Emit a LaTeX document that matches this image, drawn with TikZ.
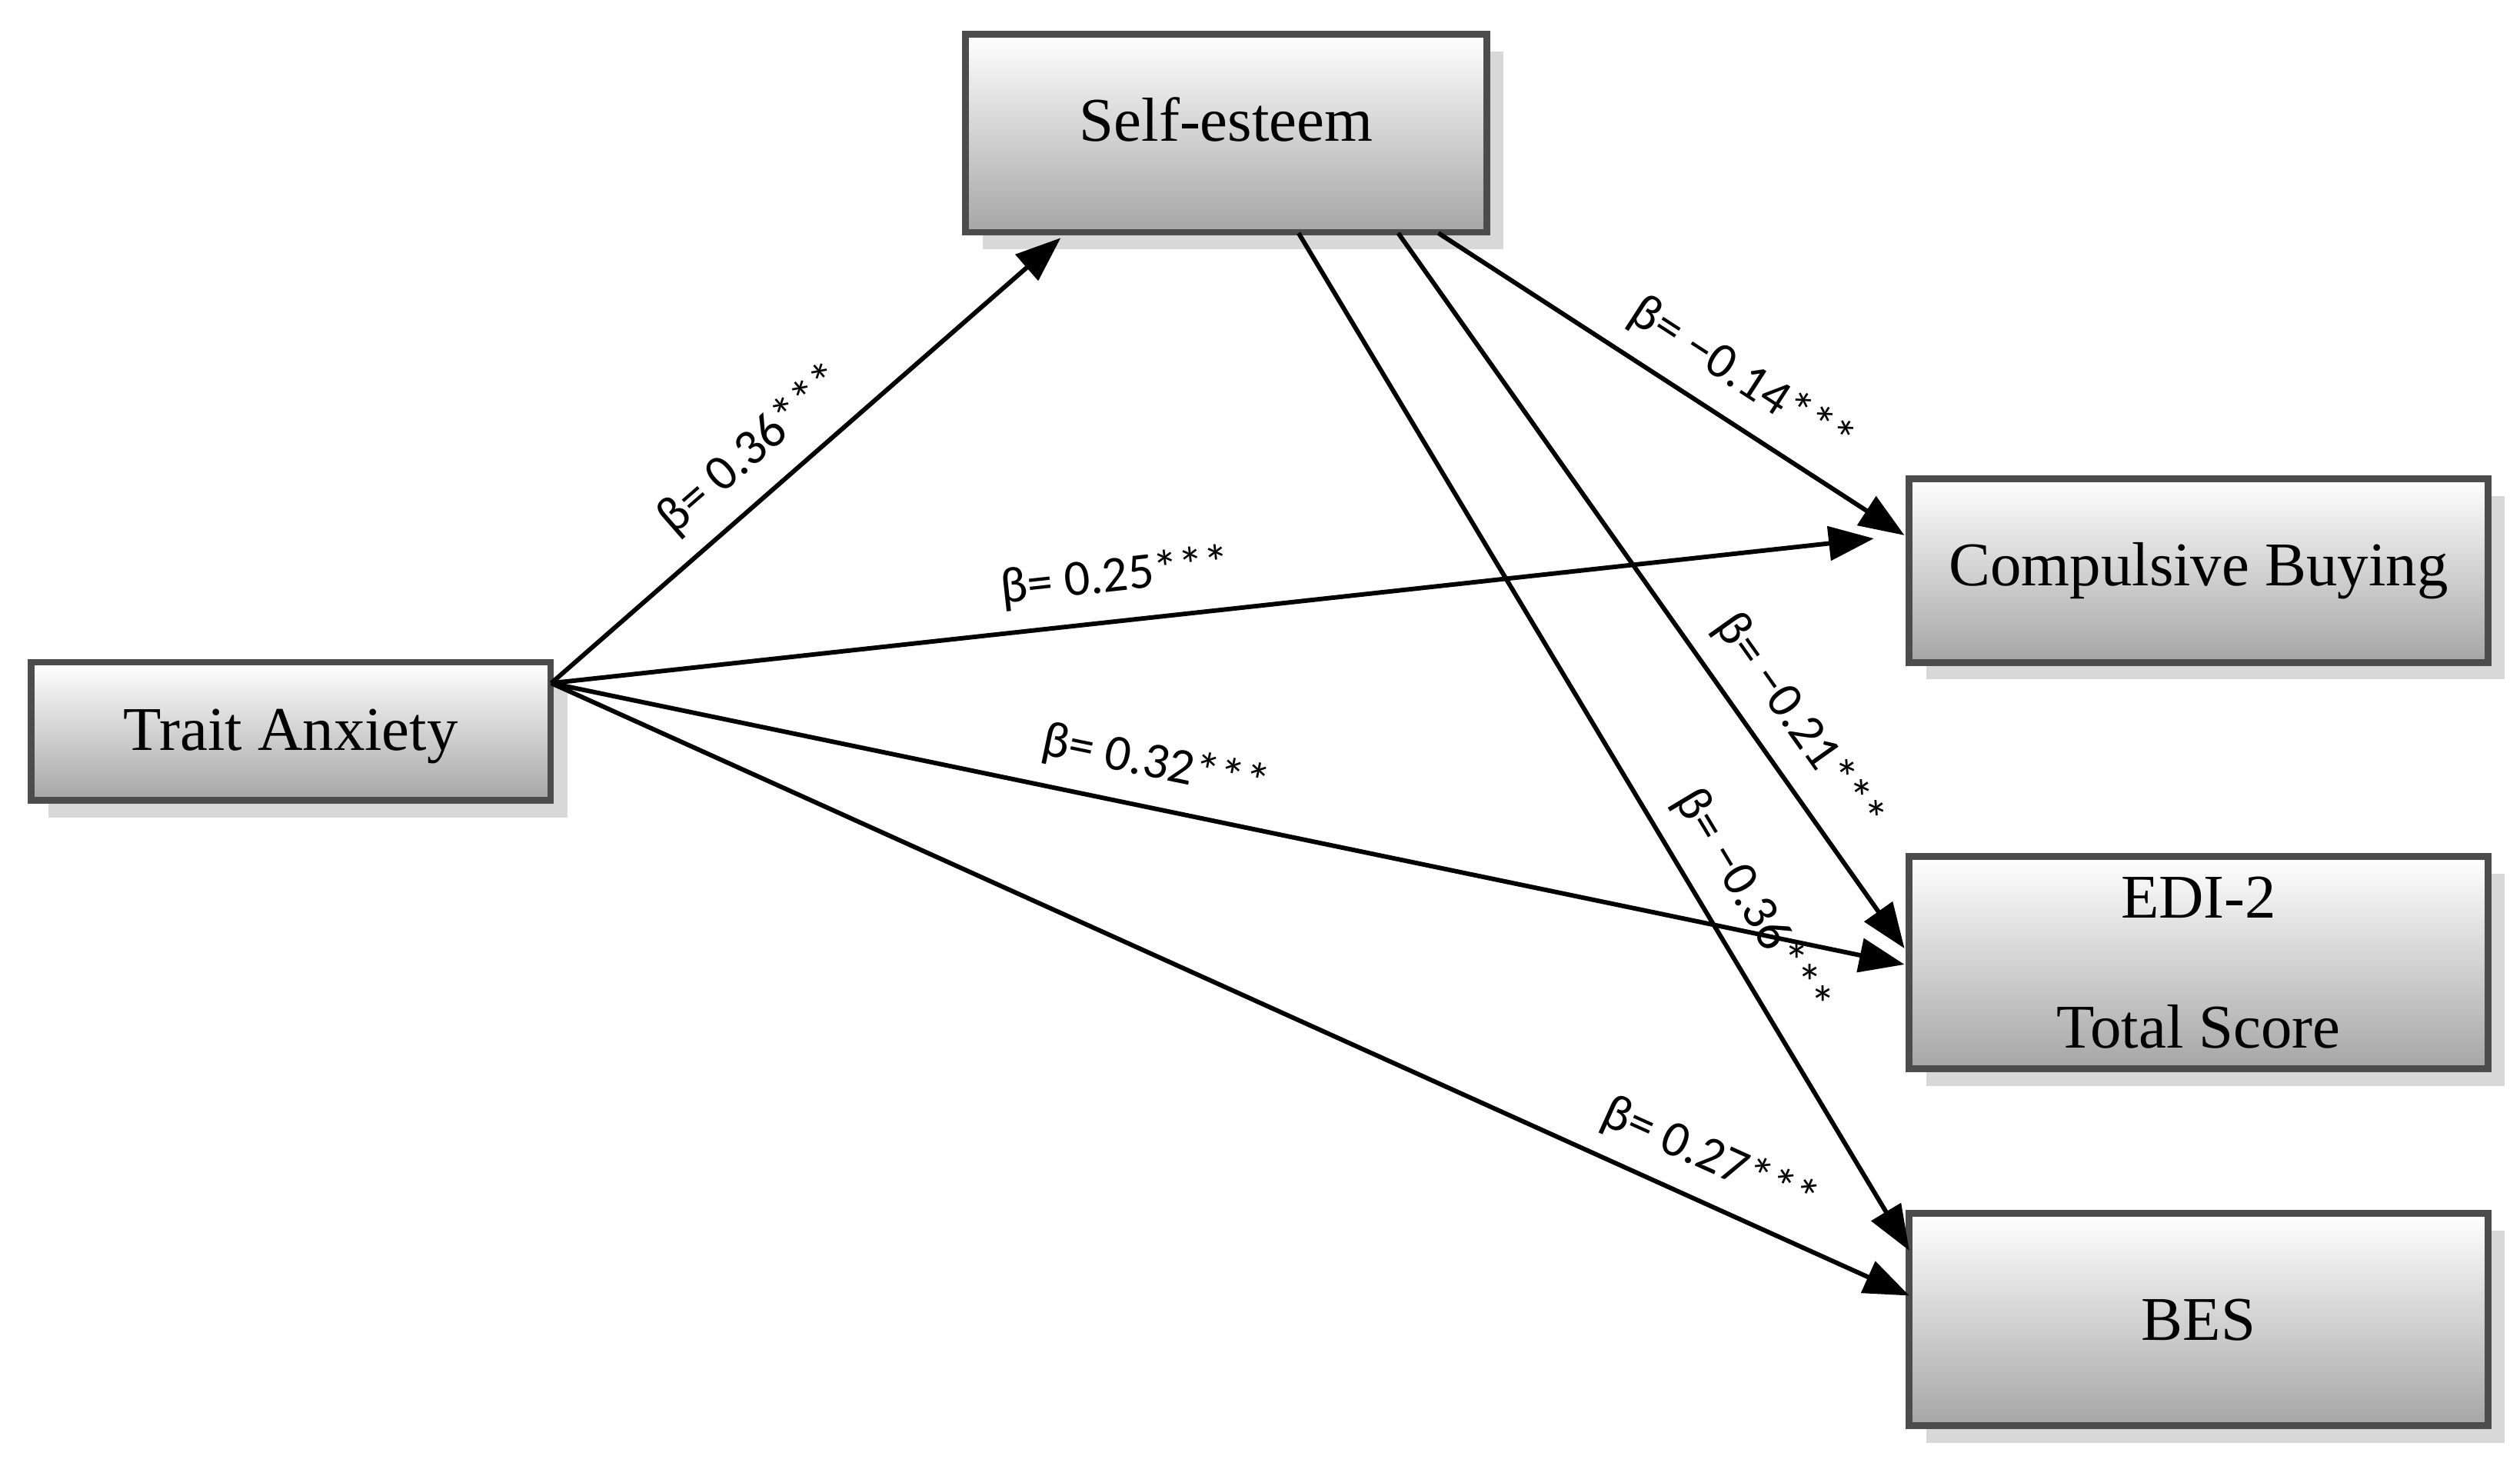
\documentclass[tikz,border=0pt]{standalone}
\usepackage{fontspec}
\setmainfont{Liberation Serif}
\newfontfamily\lblfont{Carlito}
\usetikzlibrary{shadows,arrows.meta}
\tikzset{
  box/.style={draw=black!70,line width=1.2pt,top color=white,bottom color=black!35,
    drop shadow={shadow xshift=3pt,shadow yshift=-3pt,fill=black!30},
    font=\fontsize{11}{13}\selectfont,align=center,inner sep=2pt},
  path/.style={-{Triangle[length=8pt,width=6pt]},line width=0.8pt},
  beta/.style={font=\lblfont\fontsize{9}{11}\selectfont,sloped,above}
}
\begin{document}
\begin{tikzpicture}[x=0.01cm,y=-0.01cm]
  \useasboundingbox (0,0) rectangle (1568,912);
  % variables
  \node[box,minimum width=3.24cm,minimum height=1.23cm] (se) at (763,83) {\raisebox{5pt}{Self-esteem}};
  \node[box,minimum width=3.23cm,minimum height=0.86cm] (ta) at (181,455) {\raisebox{-9pt}{Trait Anxiety}};
  \node[box,minimum width=3.6cm,minimum height=1.14cm] (cb) at (1368,355) {Compulsive Buying};
  \node[box,minimum width=3.6cm,minimum height=1.32cm] (edi) at (1368,599) {EDI-2\\[10pt]Total Score};
  \node[box,minimum width=3.6cm,minimum height=1.32cm] (bes) at (1368,821) {BES};
  % anchor points
  \coordinate (src) at (343,425);
  \coordinate (se1) at (808,145);
  \coordinate (se2) at (870,145);
  \coordinate (se3) at (895,145);
  \coordinate (se4) at (660,148);
  % paths
  \draw[path] (src) -- node[beta,pos=0.45]{β= 0.36***} (se4);
  \draw[path] (src) -- node[beta,pos=0.43]{β= 0.25***} (1166,335);
  \draw[path] (src) -- node[beta,pos=0.44]{β= 0.32***} (1185,600);
  \draw[path] (src) -- node[beta,pos=0.84]{β= 0.27***} (1188,806);
  \draw[path] (se3) -- node[beta,pos=0.6]{β= −0.14***} (1185,333);
  \draw[path] (se2) -- node[beta,pos=0.72]{β= −0.21***} (1185,590);
  \draw[path] (se1) -- node[beta,pos=0.68]{β= −0.36***} (1188,778);
\end{tikzpicture}
\end{document}
